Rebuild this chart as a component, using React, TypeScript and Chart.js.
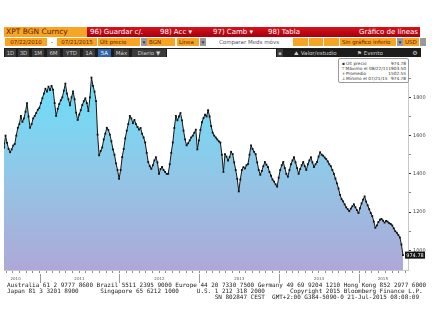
import React, { useEffect, useRef } from "react";
import { Chart, registerables } from "chart.js";

Chart.register(...registerables);

// ---- data ----
const startDate = [2010, 6, 22]; // 07/22/2010
const endDay = 1825; // 07/21/2015, days after start
const axisMaxDay = 1848;
const prices = [
  1538, 1600, 1562, 1530, 1513, 1528, 1548, 1556, 1600, 1641,
  1660, 1703, 1672, 1690, 1725, 1769, 1700, 1641, 1660, 1690,
  1703, 1718, 1735, 1744, 1770, 1795, 1820, 1845, 1830, 1856,
  1838, 1860, 1840, 1770, 1703, 1740, 1765, 1785, 1800, 1835,
  1872, 1820, 1790, 1759, 1800, 1831, 1790, 1720, 1682, 1710,
  1733, 1760, 1780, 1795, 1770, 1728, 1800, 1903.5, 1860, 1830,
  1780, 1605, 1497, 1520, 1538, 1580, 1610, 1641, 1630, 1605,
  1570, 1528, 1500, 1455, 1420, 1374, 1420, 1487, 1530, 1585,
  1626, 1660, 1703, 1690, 1665, 1682, 1660, 1645, 1631, 1640,
  1610, 1590, 1564, 1510, 1462, 1440, 1426, 1445, 1470, 1487,
  1460, 1400, 1425, 1436, 1420, 1410, 1400, 1400, 1450, 1510,
  1564, 1640, 1703, 1680, 1700, 1718, 1680, 1626, 1580, 1549,
  1560, 1575, 1590, 1600, 1615, 1631, 1528, 1575, 1630, 1670,
  1692, 1710, 1700, 1733, 1700, 1650, 1615, 1600, 1590, 1580,
  1570, 1564, 1500, 1410, 1503, 1490, 1470, 1487, 1515, 1503,
  1460, 1420, 1374, 1308, 1370, 1420, 1435, 1428, 1445, 1451,
  1500, 1549, 1530, 1515, 1503, 1460, 1420, 1395, 1415, 1440,
  1462, 1448, 1436, 1410, 1390, 1370, 1359, 1345, 1333, 1380,
  1420, 1445, 1462, 1430, 1400, 1385, 1420, 1450, 1470, 1487,
  1460, 1430, 1400, 1425, 1445, 1462, 1440, 1420, 1450, 1470,
  1487, 1460, 1436, 1450, 1462, 1490, 1513, 1500, 1495, 1485,
  1477, 1465, 1450, 1440, 1420, 1400, 1375, 1350, 1323, 1290,
  1267, 1256, 1240, 1225, 1215, 1205, 1218, 1230, 1241, 1225,
  1210, 1195, 1220, 1245, 1265, 1282, 1255, 1235, 1215, 1195,
  1179, 1150, 1118, 1130, 1148, 1160, 1164, 1155, 1145, 1154,
  1150, 1142, 1138, 1130, 1115, 1100, 1092, 1080, 1067, 1030,
  974.78,
];
const yMin = 897;
const yMax = 1985;
const yTickValues = [1000, 1100, 1200, 1300, 1400, 1500, 1600, 1700, 1800, 1900];
const yLabelValues = [1000, 1200, 1400, 1600, 1800];
const yearLabels = ["2010", "2011", "2012", "2013", "2014", "2015"];
const yearLabelDates = [
  [2010, 8, 13],
  [2011, 6, 2],
  [2012, 6, 2],
  [2013, 6, 2],
  [2014, 6, 2],
  [2015, 3, 20],
];
const yearStarts = [2011, 2012, 2013, 2014, 2015];
const lastLabel = "974.78";
const legendRows = [
  ["▪", "Últ precio", "974.78"],
  ["⊤", "Máximo el 08/22/11", "1903.50"],
  ["+", "Promedio", "1502.55"],
  ["⊥", "Mínimo el 07/21/15", "974.78"],
];

const dayOf = (y: number, m: number, d: number) =>
  (Date.UTC(y, m, d) - Date.UTC(startDate[0], startDate[1], startDate[2])) / 86400000;

const monthDays: number[] = [];
for (let y = 2010; y <= 2015; y++) {
  for (let m = 0; m < 12; m++) {
    const d = dayOf(y, m, 1);
    if (d > 0 && d < axisMaxDay) monthDays.push(d);
  }
}

const ORANGE = "#f6a524";
const ORANGE_TXT = "#6a1800";

type BoxProps = {
  x: number; y: number; w: number; h: number; bg: string; color?: string;
  text?: string; size?: number; align?: "left" | "center" | "right"; pad?: number;
  family?: string; border?: string;
};
const Box = ({ x, y, w, h, bg, color = "#000", text = "", size = 6, align = "left", pad = 2, family, border }: BoxProps) => (
  <div
    style={{
      position: "absolute", left: x, top: y, width: w, height: h, background: bg, color,
      fontSize: size, lineHeight: h + "px", textAlign: align, paddingLeft: align === "left" ? pad : 0,
      paddingRight: align === "right" ? pad : 0, boxSizing: "border-box", whiteSpace: "nowrap",
      overflow: "hidden", fontFamily: family || "'DejaVu Sans', sans-serif", border,
    }}
  >
    {text}
  </div>
);

const yearPlugin = {
  id: "yearAxis",
  afterDraw(chart: any) {
    const { ctx, chartArea, scales } = chart;
    const xs = scales.x;
    ctx.save();
    ctx.strokeStyle = "#9a9a9a";
    ctx.lineWidth = 1;
    yearStarts.forEach((yr) => {
      const px = Math.round(xs.getPixelForValue(dayOf(yr, 0, 1))) + 0.5;
      ctx.beginPath();
      ctx.moveTo(px, chartArea.bottom + 4);
      ctx.lineTo(px, chartArea.bottom + 13);
      ctx.stroke();
    });
    ctx.fillStyle = "#555";
    ctx.font = "4px 'DejaVu Sans'";
    ctx.textAlign = "center";
    ctx.textBaseline = "middle";
    yearLabels.forEach((lab, i) => {
      const [y, m, d] = yearLabelDates[i];
      ctx.fillText(lab, xs.getPixelForValue(dayOf(y, m, d)), chartArea.bottom + 9);
    });
    // last value tag
    const ys = scales.y;
    const py = ys.getPixelForValue(prices[prices.length - 1]);
    const bx = chartArea.right - 3;
    ctx.fillStyle = "#111";
    ctx.fillRect(bx, py - 3.5, 20, 7);
    ctx.fillStyle = "#fff";
    ctx.font = "5px 'DejaVu Sans'";
    ctx.fillText(lastLabel, bx + 10, py + 0.3);
    ctx.restore();
  },
};

function PriceChart() {
  const ref = useRef<HTMLCanvasElement | null>(null);
  useEffect(() => {
    if (!ref.current) return;
    const pts = prices.map((v, i) => ({ x: (i * endDay) / (prices.length - 1), y: v }));
    const chart = new Chart(ref.current, {
      type: "line",
      data: {
        datasets: [
          {
            data: pts,
            borderColor: "#151515",
            borderWidth: 1,
            pointRadius: 1.3,
            pointStyle: "rect",
            pointBackgroundColor: "#111",
            pointBorderWidth: 0,
            tension: 0,
            fill: "start",
            backgroundColor: (c: any) => {
              const area = c.chart.chartArea;
              if (!area) return "#8fcbe8";
              const g = c.chart.ctx.createLinearGradient(0, area.top, 0, area.bottom);
              g.addColorStop(0, "#62e1fc");
              g.addColorStop(0.3, "#7cd5f1");
              g.addColorStop(0.55, "#92c6e6");
              g.addColorStop(1, "#aea8d8");
              return g;
            },
          },
        ],
      },
      options: {
        animation: false,
        responsive: false,
        layout: { padding: { top: 1, left: 4, right: 0, bottom: 0 } },
        plugins: { legend: { display: false }, tooltip: { enabled: false } },
        scales: {
          x: {
            type: "linear",
            min: 0,
            max: axisMaxDay,
            afterBuildTicks: (s: any) => {
              s.ticks = monthDays.map((v) => ({ value: v }));
            },
            afterFit: (s: any) => {
              s.height = 15;
            },
            ticks: { display: false },
            grid: { drawOnChartArea: false, tickLength: 3, color: "#8a8a8a" },
            border: { display: true, color: "#c8c8c8" },
          },
          y: {
            position: "right",
            min: yMin,
            max: yMax,
            afterBuildTicks: (s: any) => {
              s.ticks = yTickValues.map((v) => ({ value: v }));
            },
            afterFit: (s: any) => {
              s.width = 24;
            },
            ticks: {
              padding: 2,
              color: "#444",
              font: { family: "'DejaVu Sans'", size: 5 },
              callback: (v: any) => (yLabelValues.includes(Number(v)) ? String(v) : ""),
            },
            grid: {
              drawOnChartArea: false,
              tickLength: 3,
              color: (c: any) => (c.tick && yLabelValues.includes(c.tick.value) ? "#333" : "#888"),
            },
            border: { display: true, color: "#c8c8c8" },
          },
        },
      },
      plugins: [yearPlugin],
    } as any);
    return () => chart.destroy();
  }, []);
  return (
    <canvas
      ref={ref}
      width={432}
      height={228}
      style={{ position: "absolute", left: 0, top: 57, width: 432, height: 228, display: "block" }}
    />
  );
}

export default function App() {
  const btns: [string, number, number, boolean][] = [
    ["1D", 5, 11, false], ["3D", 18, 11, false], ["1M", 32, 12, false], ["6M", 47, 13, false],
    ["YTD", 63, 17, false], ["1A", 83, 12, false], ["5A", 98, 13, true], ["Máx", 114, 15, false],
    ["Diario ▼", 132, 34, false],
  ];
  return (
    <div style={{ position: "fixed", left: 0, top: 0, width: 432, height: 309, background: "#fff", overflow: "hidden" }}>
      {/* row 1 */}
      <Box x={4} y={27} w={83} h={10} bg={ORANGE} color={ORANGE_TXT} text="XPT BGN Curncy" size={7.5} />
      <div style={{ position: "absolute", left: 87, top: 27, width: 333, height: 10, background: "linear-gradient(#d8121c,#a5000e)" }} />
      <Box x={90} y={27} w={60} h={10} bg="transparent" color="#fff" text="96) Guardar c/." size={7} pad={0} />
      <Box x={160} y={27} w={45} h={10} bg="transparent" color="#fff" text="98) Acc ▾" size={7} pad={0} />
      <Box x={213} y={27} w={50} h={10} bg="transparent" color="#fff" text="97) Camb ▾" size={7} pad={0} />
      <Box x={268} y={27} w={45} h={10} bg="transparent" color="#fff" text="98) Tabla" size={7} pad={0} />
      <Box x={340} y={27} w={79} h={10} bg="transparent" color="#fff" text="Gráfico de líneas" size={7} align="right" pad={1} />
      {/* row 2 */}
      <Box x={5} y={37.5} w={42} h={8} bg={ORANGE} color={ORANGE_TXT} text="07/22/2010" size={5.5} align="center" />
      <Box x={47} y={37.5} w={10} h={8} bg="#fff" color="#000" text="-" size={5.5} align="center" />
      <Box x={57} y={37.5} w={40} h={8} bg={ORANGE} color={ORANGE_TXT} text="07/21/2015" size={5.5} align="center" />
      <Box x={98} y={37.5} w={42} h={8} bg={ORANGE} color={ORANGE_TXT} text="Últ precio" size={5.5} />
      <Box x={141} y={37.5} w={6} h={8} bg="#9a9a9a" color="#222" text="▾" size={5} align="center" />
      <Box x={147} y={37.5} w={28} h={8} bg={ORANGE} color={ORANGE_TXT} text="BGN" size={5.5} />
      <Box x={177} y={37.5} w={22} h={8} bg={ORANGE} color={ORANGE_TXT} text="Línea" size={5.5} />
      <Box x={200} y={37.5} w={6} h={8} bg="#9a9a9a" color="#222" text="▾" size={5} align="center" />
      <Box x={206} y={37.5} w={86} h={8} bg="#fff" color="#555" text="Comparar Meds móvs" size={5.5} align="center" />
      <Box x={293} y={37.5} w={15} h={8} bg={ORANGE} />
      <Box x={309} y={37.5} w={14} h={8} bg={ORANGE} />
      <Box x={324} y={37.5} w={15} h={8} bg={ORANGE} />
      <Box x={340} y={37.5} w={56} h={8} bg={ORANGE} color={ORANGE_TXT} text="Sin gráfico inferio" size={5.5} />
      <Box x={397} y={37.5} w={6} h={8} bg="#9a9a9a" color="#222" text="▾" size={5} align="center" />
      <Box x={403} y={37.5} w={16} h={8} bg={ORANGE} color={ORANGE_TXT} text="USD" size={5.5} />
      <Box x={420} y={37.5} w={6} h={8} bg="#9a9a9a" />
      {/* row 3 */}
      <div style={{ position: "absolute", left: 4, top: 48, width: 417, height: 9, background: "#1c1c1c" }} />
      {btns.map(([t, x, w, on]) => (
        <Box key={t} x={x} y={48.5} w={w} h={8} bg={on ? "#2f64a8" : "#3a3a3a"} color={on ? "#fff" : "#d0d0d0"} text={t} size={5.5} align="center" />
      ))}
      <Box x={167} y={48.5} w={109} h={8} bg="#fff" />
      <Box x={277} y={48.5} w={6} h={8} bg="#3a3a3a" color="#bbb" text="▪" size={5} align="center" />
      <Box x={292} y={48.5} w={60} h={8} bg="transparent" color="#d0d0d0" text="⛰  Valor/estudio" size={5.5} />
      <Box x={355} y={48.5} w={45} h={8} bg="transparent" color="#d0d0d0" text="⚑   Evento" size={5.5} />
      <Box x={410} y={48.5} w={10} h={8} bg="transparent" color="#d0d0d0" text="⚙" size={6} align="center" />

      <PriceChart />

      {/* legend box */}
      <div
        style={{
          position: "absolute", left: 338, top: 58, width: 71, height: 25, background: "#fff",
          border: "1px solid #9a9a9a", borderRadius: 2, boxSizing: "border-box", padding: "1.5px 2px",
          fontFamily: "'DejaVu Sans', sans-serif", fontSize: 4.3, lineHeight: "5.3px", color: "#333",
        }}
      >
        {legendRows.map(([ic, lab, val]) => (
          <div key={lab} style={{ display: "flex", whiteSpace: "nowrap" }}>
            <span style={{ width: 5, textAlign: "center" }}>{ic}</span>
            <span style={{ flex: 1 }}>{lab}</span>
            <span>{val}</span>
          </div>
        ))}
      </div>

      {/* footer */}
      <div
        style={{
          position: "absolute", left: 7, top: 282, fontFamily: "'DejaVu Sans Mono', monospace",
          fontSize: 6, lineHeight: "6px", color: "#222", whiteSpace: "pre", letterSpacing: -0.03,
        }}
      >
        {"Australia 61 2 9777 8600 Brazil 5511 2395 9000 Europe 44 20 7330 7500 Germany 49 69 9204 1210 Hong Kong 852 2977 6000\n"}
        {"Japan 81 3 3201 8900      Singapore 65 6212 1000     U.S. 1 212 318 2000       Copyright 2015 Bloomberg Finance L.P.\n"}
        {"                                                          SN 802847 CEST  GMT+2:00 G384-5090-0 21-Jul-2015 08:08:09"}
      </div>
    </div>
  );
}
